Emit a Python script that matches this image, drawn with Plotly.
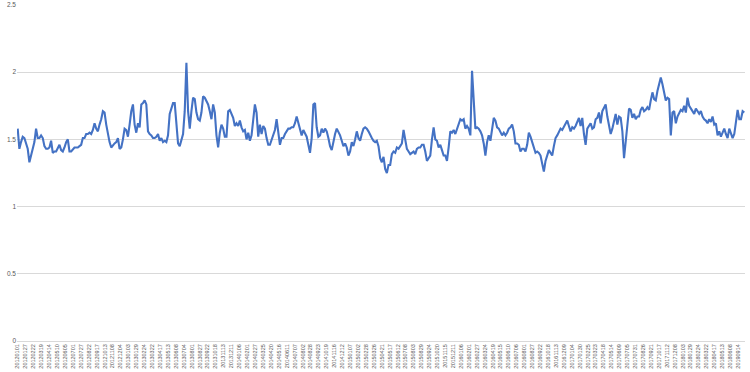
import plotly.graph_objects as go

# Series values (left to right, evenly spaced along the category axis)
values_part1 = [
    1.58, 1.43, 1.48, 1.52, 1.51, 1.47, 1.43, 1.33, 1.38, 1.44, 1.48, 1.58, 1.51, 1.51, 1.53, 1.51,
    1.45, 1.43, 1.43, 1.44, 1.49, 1.40, 1.41, 1.41, 1.44, 1.46, 1.42, 1.41, 1.44, 1.48, 1.50, 1.41,
    1.41, 1.43, 1.44, 1.44, 1.44, 1.45, 1.46, 1.51, 1.51, 1.54, 1.54, 1.55, 1.54, 1.57, 1.62, 1.58,
    1.56, 1.61, 1.65, 1.71, 1.70, 1.61, 1.53, 1.48, 1.44, 1.46, 1.47, 1.48, 1.51, 1.43, 1.44, 1.50,
    1.58, 1.57, 1.52, 1.61, 1.71, 1.76, 1.61, 1.55, 1.62, 1.59, 1.76, 1.77, 1.79, 1.76, 1.56, 1.54,
    1.53, 1.51, 1.51, 1.52, 1.54, 1.49, 1.51, 1.48, 1.49, 1.48, 1.53, 1.69, 1.73, 1.77, 1.77, 1.61,
    1.47, 1.45, 1.50, 1.54, 1.71, 2.07, 1.71, 1.58, 1.71, 1.81, 1.80, 1.70,
]
values_part2 = [
    1.65, 1.64, 1.70, 1.82, 1.81, 1.79, 1.76, 1.71, 1.65, 1.76, 1.70, 1.53, 1.44, 1.55, 1.61, 1.58,
    1.52, 1.52, 1.71, 1.72, 1.69, 1.66, 1.60, 1.62, 1.60, 1.64, 1.59, 1.56, 1.57, 1.50, 1.55, 1.49,
    1.53, 1.67, 1.76, 1.70, 1.52, 1.61, 1.54, 1.60, 1.58, 1.51, 1.46, 1.46, 1.50, 1.53, 1.57, 1.65,
    1.56, 1.46, 1.51, 1.51, 1.54, 1.56, 1.58, 1.58, 1.59, 1.59, 1.62, 1.67, 1.62, 1.57, 1.53, 1.57,
    1.54, 1.52, 1.46, 1.40, 1.51, 1.76, 1.77, 1.59, 1.52, 1.53, 1.58, 1.55, 1.58, 1.56, 1.51, 1.45,
    1.42, 1.49, 1.54, 1.58, 1.56, 1.53, 1.49, 1.45, 1.47, 1.44, 1.38, 1.41, 1.48, 1.45, 1.50, 1.56,
    1.51, 1.49, 1.54, 1.58, 1.59, 1.58, 1.56, 1.53, 1.51, 1.49, 1.48, 1.49, 1.45, 1.36,
]
values_part3 = [
    1.33, 1.37, 1.28, 1.25, 1.31, 1.31, 1.39, 1.41, 1.40, 1.44, 1.43, 1.45, 1.47, 1.57, 1.48, 1.43,
    1.41, 1.39, 1.40, 1.41, 1.39, 1.43, 1.44, 1.44, 1.46, 1.46, 1.41, 1.34, 1.36, 1.38, 1.50, 1.59,
    1.50, 1.49, 1.44, 1.46, 1.42, 1.38, 1.38, 1.34, 1.44, 1.56, 1.55, 1.57, 1.54, 1.58, 1.62, 1.65,
    1.64, 1.65, 1.58, 1.60, 1.58, 1.53, 2.01, 1.74, 1.58, 1.59, 1.58, 1.56, 1.53, 1.47, 1.38, 1.48,
    1.53, 1.49, 1.56, 1.66, 1.64, 1.59, 1.58, 1.55, 1.53, 1.55, 1.53, 1.55, 1.58, 1.59, 1.61, 1.56,
    1.47, 1.47, 1.46, 1.41, 1.43, 1.43, 1.41, 1.46, 1.55, 1.52, 1.48, 1.45, 1.40, 1.41, 1.40, 1.38,
    1.31, 1.26, 1.34, 1.39, 1.42, 1.40, 1.38, 1.45, 1.51, 1.53, 1.55, 1.58, 1.57, 1.59,
]
values_part4 = [
    1.62, 1.64, 1.60, 1.56, 1.59, 1.58, 1.60, 1.63, 1.66, 1.60, 1.66, 1.54, 1.46, 1.58, 1.60, 1.62,
    1.58, 1.59, 1.65, 1.66, 1.70, 1.62, 1.71, 1.74, 1.76, 1.67, 1.59, 1.54, 1.58, 1.65, 1.69, 1.61,
    1.67, 1.66, 1.56, 1.36, 1.49, 1.62, 1.73, 1.72, 1.66, 1.69, 1.65, 1.67, 1.67, 1.72, 1.74, 1.71,
    1.72, 1.74, 1.72, 1.79, 1.85, 1.80, 1.79, 1.86, 1.91, 1.96, 1.91, 1.84, 1.79, 1.81, 1.80, 1.53,
    1.70, 1.71, 1.62, 1.67, 1.69, 1.72, 1.71, 1.75, 1.70, 1.81, 1.75, 1.73, 1.71, 1.69, 1.73, 1.71,
    1.69, 1.71, 1.67, 1.65, 1.64, 1.62, 1.65, 1.63, 1.67, 1.61, 1.62, 1.53, 1.56, 1.52, 1.55, 1.58,
    1.54, 1.51, 1.58, 1.54, 1.51, 1.54, 1.62, 1.72, 1.65, 1.65, 1.71, 1.70,
]
values = values_part1 + values_part2 + values_part3 + values_part4

# Category-axis tick labels (one every 26 categories)
tick_labels = [
    "20120101", "20120127", "20120222", "20120319", "20120414", "20120510", "20120605", "20120701",
    "20120727", "20120822", "20120917", "20121013", "20121108", "20121204", "20130103", "20130129",
    "20130224", "20130322", "20130417", "20130513", "20130608", "20130704", "20130801", "20130827",
    "20130922", "20131018", "20131113", "20131211", "20140106", "20140201", "20140227", "20140325",
    "20140420", "20140516", "20140611", "20140707", "20140802", "20140828", "20140923", "20141019",
    "20141116", "20141212", "20150107", "20150202", "20150228", "20150326", "20150421", "20150517",
    "20150612", "20150708", "20150803", "20150829", "20150924", "20151020", "20151115", "20151211",
    "20160106", "20160201", "20160227", "20160324", "20160419", "20160515", "20160610", "20160706",
    "20160801", "20160827", "20160922", "20161018", "20161113", "20161209", "20170104", "20170130",
    "20170225", "20170323", "20170418", "20170514", "20170609", "20170705", "20170731", "20170826",
    "20170921", "20171017", "20171112", "20171208", "20180103", "20180129", "20180224", "20180322",
    "20180417", "20180513", "20180608", "20190914",
]
label_step = 26
n_categories = 2387
y_ticks = [0, 0.5, 1, 1.5, 2, 2.5]

n = len(values)
xs = [i * (n_categories - 1) / (n - 1) for i in range(n)]
tick_pos = [k * label_step for k in range(len(tick_labels))]

fig = go.Figure()
fig.add_trace(go.Scatter(
    x=xs, y=values, mode="lines",
    line=dict(color="#4472C4", width=2.1, shape="linear"),
    hoverinfo="skip", showlegend=False,
))

fig.update_layout(
    width=750, height=372,
    margin=dict(l=17, r=5, t=5, b=31, autoexpand=False),
    paper_bgcolor="white", plot_bgcolor="white",
    font=dict(family="Liberation Sans, Arial, sans-serif", color="#595959"),
)
fig.update_xaxes(
    range=[-2.3, n_categories - 1 + 2.3],
    tickmode="array", tickvals=tick_pos, ticktext=tick_labels,
    tickangle=-90, tickfont=dict(size=5.5, color="#595959"),
    showgrid=False, showline=True, linecolor="#D9D9D9", linewidth=1,
    ticks="", zeroline=False, automargin=False,
)
fig.update_yaxes(
    range=[0, 2.5], tickmode="array", tickvals=y_ticks,
    ticktext=[f"{v:g}" for v in y_ticks],
    tickfont=dict(size=6.5, color="#595959"),
    showgrid=True, gridcolor="#D9D9D9", gridwidth=1,
    zeroline=False, showline=False, ticks="", automargin=False,
)

fig.write_html(
    "out.html",
    config={"displayModeBar": False, "staticPlot": True},
    post_script="document.body.style.margin='0';document.body.style.overflow='hidden';",
)
